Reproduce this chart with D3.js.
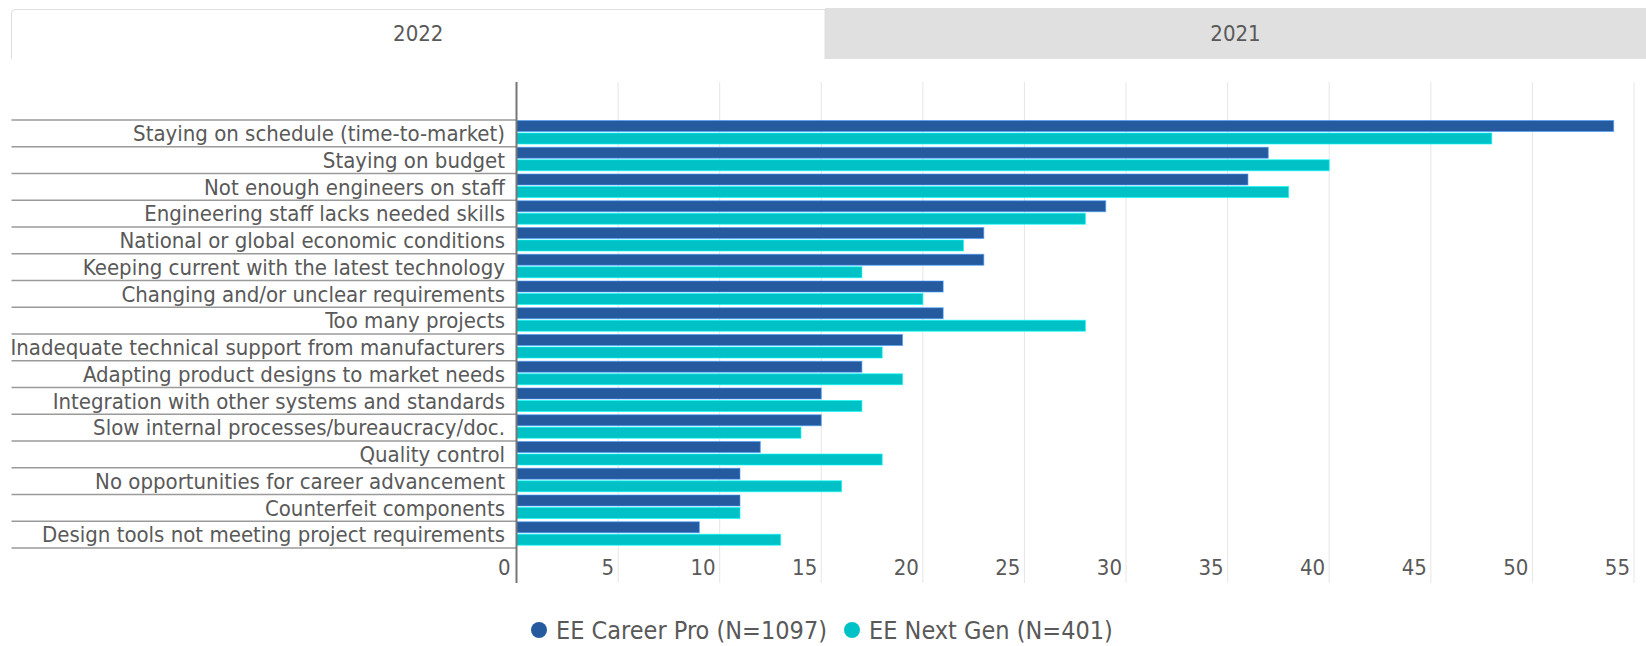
<!DOCTYPE html>
<html>
<head>
<meta charset="utf-8">
<script src="https://cdn.jsdelivr.net/npm/d3@7"></script>
<style>
  body { margin: 0; background: #fff; }
  svg text { font-family: "Liberation Sans Narrow", "DejaVu Sans Condensed", "Roboto", sans-serif; fill: #595959; }
</style>
</head>
<body>
<svg id="chart"></svg>
<script>
// categories, top to bottom
var categories = [
  "Staying on schedule (time-to-market)",
  "Staying on budget",
  "Not enough engineers on staff",
  "Engineering staff lacks needed skills",
  "National or global economic conditions",
  "Keeping current with the latest technology",
  "Changing and/or unclear requirements",
  "Too many projects",
  "Inadequate technical support from manufacturers",
  "Adapting product designs to market needs",
  "Integration with other systems and standards",
  "Slow internal processes/bureaucracy/doc.",
  "Quality control",
  "No opportunities for career advancement",
  "Counterfeit components",
  "Design tools not meeting project requirements"
];
var careerPro = [54, 37, 36, 29, 23, 23, 21, 21, 19, 17, 15, 15, 12, 11, 11, 9];
var nextGen   = [48, 40, 38, 28, 22, 17, 20, 28, 18, 19, 17, 14, 18, 16, 11, 13];
var seriesNames = ["EE Career Pro (N=1097)", "EE Next Gen (N=401)"];
var seriesColors = ["#255a9f", "#00c1c6"];
var tabs = ["2022", "2021"];
var xTicks = [0, 5, 10, 15, 20, 25, 30, 35, 40, 45, 50, 55];

var W = 1646, H = 646;
var svg = d3.select("#chart").attr("width", W).attr("height", H);

// ---- tabs
var tabEdges = [11.5, 825, W];
svg.append("rect")
    .attr("x", tabEdges[1]).attr("y", 8)
    .attr("width", tabEdges[2] - tabEdges[1]).attr("height", 51)
    .style("fill", "#e0e0e0");
svg.append("path")
    .attr("d", "M11.5,59 V14 Q11.5,9.5 16,9.5 H" + tabEdges[1] + " V59")
    .style("fill", "#fff").style("stroke", "#dedede").style("stroke-width", 1);
svg.selectAll(".tab")
    .data(tabs)
  .enter().append("text")
    .attr("class", "tab")
    .attr("x", function(d, i) { return (tabEdges[i] + tabEdges[i + 1]) / 2; })
    .attr("y", 33)
    .attr("dy", "0.35em")
    .attr("text-anchor", "middle")
    .style("font-size", "22px")
    .text(function(d) { return d; });

// ---- scales
var plotTop = 82, plotBottom = 583;
var x = d3.scaleLinear().domain([0, 55]).range([516.5, 1634]);
var y = d3.scaleBand().domain(categories).range([120, 548]).padding(0);
var ySeries = d3.scaleBand().domain([0, 1]).range([0.5, 24]).paddingInner(0.12);

// gridlines
svg.append("g").selectAll("line")
    .data(xTicks.slice(1))
  .enter().append("line")
    .attr("x1", function(d) { return x(d); }).attr("x2", function(d) { return x(d); })
    .attr("y1", plotTop).attr("y2", plotBottom)
    .style("stroke", "#e6e6e6").style("stroke-width", 1);

// row separators
svg.append("g").selectAll("line")
    .data(categories.concat(["end"]))
  .enter().append("line")
    .attr("x1", 11.5).attr("x2", x(0))
    .attr("y1", function(d, i) { return i < categories.length ? y(d) : y.range()[1]; })
    .attr("y2", function(d, i) { return i < categories.length ? y(d) : y.range()[1]; })
    .style("stroke", "#9a9a9a").style("stroke-width", 1.5);

// bars
var rows = categories.map(function(c, i) { return { cat: c, vals: [careerPro[i], nextGen[i]] }; });
var row = svg.append("g").selectAll("g")
    .data(rows)
  .enter().append("g")
    .attr("transform", function(d) { return "translate(0," + y(d.cat) + ")"; });

row.selectAll("rect")
    .data(function(d) { return d.vals; })
  .enter().append("rect")
    .attr("x", x(0))
    .attr("y", function(d, i) { return ySeries(i); })
    .attr("width", function(d) { return x(d) - x(0); })
    .attr("height", ySeries.bandwidth())
    .style("fill", function(d, i) { return seriesColors[i]; })
    .style("stroke", function(d, i) { return d3.color(seriesColors[i]).brighter(1.6); })
    .style("stroke-opacity", 0.6)
    .style("stroke-width", 1);

// category labels
svg.append("g").selectAll("text")
    .data(categories)
  .enter().append("text")
    .attr("x", 505)
    .attr("y", function(d) { return y(d) + y.bandwidth() / 2; })
    .attr("dy", "0.35em")
    .attr("text-anchor", "end")
    .style("font-size", "22px")
    .text(function(d) { return d; });

// axis line
svg.append("line")
    .attr("x1", x(0)).attr("x2", x(0))
    .attr("y1", plotTop).attr("y2", plotBottom)
    .style("stroke", "#777").style("stroke-width", 2);

// tick labels sit left of each gridline
svg.append("g").selectAll("text")
    .data(xTicks)
  .enter().append("text")
    .attr("x", function(d) { return x(d) - (d === 0 ? 6 : 4); })
    .attr("y", 567)
    .attr("dy", "0.35em")
    .attr("text-anchor", "end")
    .style("font-size", "22px")
    .text(function(d) { return d; });

// legend
var legendX = [539, 852];
var legend = svg.append("g").selectAll("g")
    .data(seriesNames)
  .enter().append("g")
    .attr("transform", function(d, i) { return "translate(" + legendX[i] + ",630)"; });
legend.append("circle")
    .attr("r", 8)
    .style("fill", function(d, i) { return seriesColors[i]; });
legend.append("text")
    .attr("x", 17)
    .attr("dy", "0.35em")
    .style("font-size", "25px")
    .text(function(d) { return d; });
</script>
</body>
</html>
